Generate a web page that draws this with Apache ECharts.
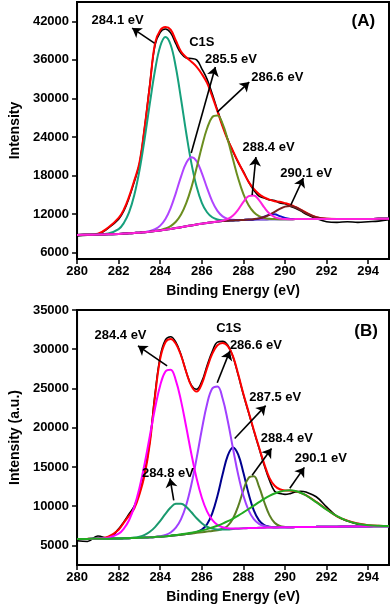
<!DOCTYPE html>
<html>
<head>
<meta charset="utf-8">
<script src="https://cdn.jsdelivr.net/npm/echarts@6/dist/echarts.min.js"></script>
<style>
html, body { margin: 0; padding: 0; background: #fff; }
#chart { width: 392px; height: 608px; }
</style>
</head>
<body>
<div id="chart"></div>
<script>
// binding energy grid (eV) shared by both spectra
var energy = [280, 280.5, 281, 281.5, 282, 282.25, 282.5, 282.75, 283, 283.25, 283.5, 283.75,
    284, 284.25, 284.5, 284.75, 285, 285.25, 285.5, 285.75, 286, 286.25, 286.5, 286.75,
    287, 287.25, 287.5, 287.75, 288, 288.25, 288.5, 288.75, 289, 289.25, 289.5, 289.75,
    290, 290.25, 290.5, 290.75, 291, 291.5, 292, 292.5, 293, 293.5, 294, 294.5, 295];

var xTicks = [280, 282, 284, 286, 288, 290, 292, 294];
var yTicksA = [6000, 12000, 18000, 24000, 30000, 36000, 42000];
var yTicksB = [5000, 10000, 15000, 20000, 25000, 30000, 35000];

// ---- panel A ----
var expA = [8600, 8700, 8850, 9800, 11200, 12500, 14500, 17000, 19800, 25500, 32200, 38300,
    40300, 40800, 40200, 38500, 37000, 36300, 36200, 36000, 34600, 33000, 30700, 28200,
    25800, 23600, 21700, 20000, 18600, 17000, 15700, 14800, 14500, 14200, 14100, 13700,
    13600, 13200, 12900, 12500, 12000, 11300, 10800, 10700, 10800, 10700, 10800, 10900, 11100];
var fitA = [8750, 8800, 8950, 9900, 11400, 12700, 14700, 17200, 20000, 25500, 32000, 38600,
    40600, 41100, 40700, 39000, 37300, 36400, 35700, 34900, 33800, 32400, 30300, 28000,
    25600, 23500, 21800, 20100, 18500, 17000, 15900, 15100, 14600, 14250, 14000, 13900,
    13700, 13450, 13100, 12700, 12250, 11500, 11250, 11230, 11230, 11240, 11240, 11250, 11250];
var baseA = [8750, 8770, 8800, 8850, 8900, 8950, 9000, 9050, 9100, 9180, 9260, 9350,
    9450, 9560, 9680, 9810, 9950, 10090, 10230, 10370, 10500, 10620, 10730, 10820,
    10900, 10960, 11010, 11050, 11080, 11110, 11130, 11150, 11160, 11170, 11180, 11190,
    11200, 11200, 11210, 11210, 11210, 11220, 11220, 11230, 11230, 11240, 11240, 11250, 11250];
// component heights above background
var pkA284 = [0, 0, 10, 120, 760, 1650, 3250, 5860, 9650, 14520, 19950, 25030,
    28670, 30000, 28670, 25030, 19950, 14520, 9650, 5860, 3250, 1650, 760, 320,
    120, 40, 0, 0, 0, 0, 0, 0, 0, 0, 0, 0,
    0, 0, 0, 0, 0, 0, 0, 0, 0, 0, 0, 0, 0];
var pkA285 = [0, 0, 0, 0, 0, 0, 0, 0, 0, 0, 90, 280,
    740, 1670, 3250, 5450, 7880, 9850, 10600, 9850, 7880, 5450, 3250, 1670,
    740, 280, 90, 0, 0, 0, 0, 0, 0, 0, 0, 0,
    0, 0, 0, 0, 0, 0, 0, 0, 0, 0, 0, 0, 0];
var pkA286 = [0, 0, 0, 0, 0, 0, 0, 0, 0, 0, 0, 0,
    70, 185, 450, 990, 1980, 3600, 5920, 8840, 11970, 14690, 16360, 16520,
    15130, 12570, 9470, 6470, 4010, 2250, 1150, 530, 220, 85, 30, 0,
    0, 0, 0, 0, 0, 0, 0, 0, 0, 0, 0, 0, 0];
var pkA288 = [0, 0, 0, 0, 0, 0, 0, 0, 0, 0, 0, 0,
    0, 0, 0, 0, 0, 0, 0, 0, 0, 0, 0, 0,
    75, 270, 760, 1650, 2800, 3680, 3770, 3010, 1870, 910, 340, 100,
    25, 0, 0, 0, 0, 0, 0, 0, 0, 0, 0, 0, 0];
var pkA290 = [0, 0, 0, 0, 0, 0, 0, 0, 0, 0, 0, 0,
    0, 0, 0, 0, 0, 0, 0, 0, 0, 0, 0, 0,
    0, 0, 0, 0, 0, 20, 70, 170, 375, 705, 1150, 1610,
    1955, 2045, 1840, 1430, 960, 280, 45, 0, 0, 0, 0, 0, 0];
var pkA289 = [0, 0, 0, 0, 0, 0, 0, 0, 0, 0, 0, 0,
    0, 0, 0, 0, 0, 0, 0, 0, 0, 0, 0, 0,
    0, 0, 0, 0, 0, 0, 30, 140, 420, 730, 770, 490,
    185, 40, 0, 0, 0, 0, 0, 0, 0, 0, 0, 0, 0];

// ---- panel B ----
var expB = [5600, 5500, 6200, 5900, 7100, 8000, 9000, 10000, 11700, 14300, 18300, 24300,
    29100, 31200, 31600, 30900, 29300, 27100, 25400, 24900, 25900, 27900, 29700, 30900,
    31000, 30500, 29000, 26700, 24200, 21900, 19600, 17400, 15200, 13300, 11900, 11600,
    11500, 11600, 11800, 11900, 11800, 11200, 9900, 8700, 8100, 7700, 7500, 7450, 7500];
var fitB = [5800, 5830, 5870, 6100, 7000, 7900, 8800, 9700, 11500, 14000, 18000, 24000,
    28800, 30900, 31300, 30700, 29200, 27100, 25300, 24600, 25600, 27600, 29400, 30500,
    30800, 30400, 29100, 26800, 24300, 22000, 19700, 17500, 15400, 13600, 12600, 12150,
    12000, 11980, 11900, 11700, 11400, 10550, 9600, 8700, 8150, 7780, 7580, 7490, 7460];
var baseB = [5800, 5820, 5840, 5860, 5880, 5900, 5920, 5940, 5970, 6000, 6030, 6070,
    6110, 6160, 6220, 6290, 6360, 6440, 6520, 6600, 6680, 6760, 6840, 6910,
    6980, 7040, 7090, 7130, 7170, 7200, 7220, 7240, 7260, 7280, 7290, 7300,
    7310, 7320, 7330, 7340, 7350, 7360, 7380, 7390, 7400, 7410, 7420, 7430, 7440];
var pkB284 = [0, 0, 15, 120, 610, 1230, 2290, 3970, 6350, 9410, 12930, 16400,
    19300, 21000, 21170, 19740, 17060, 13640, 10100, 6920, 4390, 2570, 1400, 700,
    330, 140, 55, 20, 0, 0, 0, 0, 0, 0, 0, 0,
    0, 0, 0, 0, 0, 0, 0, 0, 0, 0, 0, 0, 0];
var pkB2848 = [0, 0, 0, 0, 0, 0, 20, 60, 150, 345, 700, 1265,
    2020, 2865, 3600, 4010, 3960, 3470, 2700, 1860, 1140, 615, 295, 125,
    50, 0, 0, 0, 0, 0, 0, 0, 0, 0, 0, 0,
    0, 0, 0, 0, 0, 0, 0, 0, 0, 0, 0, 0, 0];
var pkB286 = [0, 0, 0, 0, 0, 0, 0, 0, 0, 0, 0, 0,
    60, 165, 420, 960, 1990, 3710, 6260, 9520, 13090, 16230, 18160, 18350,
    16730, 13780, 10230, 6860, 4150, 2270, 1125, 500, 200, 75, 0, 0,
    0, 0, 0, 0, 0, 0, 0, 0, 0, 0, 0, 0, 0];
var pkB287 = [0, 0, 0, 0, 0, 0, 0, 0, 0, 0, 0, 0,
    0, 0, 0, 0, 0, 0, 20, 94, 330, 940, 2230, 4380,
    7080, 9440, 10400, 9440, 7080, 4380, 2230, 940, 330, 94, 20, 0,
    0, 0, 0, 0, 0, 0, 0, 0, 0, 0, 0, 0, 0];
var pkB288 = [0, 0, 0, 0, 0, 0, 0, 0, 0, 0, 0, 0,
    0, 0, 0, 0, 0, 0, 0, 0, 0, 0, 0, 30,
    135, 475, 1330, 2880, 4870, 6410, 6580, 5250, 3270, 1580, 600, 175,
    40, 0, 0, 0, 0, 0, 0, 0, 0, 0, 0, 0, 0];
var pkB290 = [0, 0, 0, 0, 0, 0, 0, 0, 0, 0, 0, 0,
    0, 0, 17, 28, 45, 70, 103, 152, 222, 316, 440, 600,
    800, 1040, 1330, 1665, 2035, 2435, 2850, 3265, 3665, 4020, 4320, 4540,
    4670, 4700, 4600, 4370, 4040, 3145, 2175, 1335, 727, 352, 150, 57, 20];

// annotations: [text, energy, intensity]
var notesA = [['284.1 eV', 281.95, 42190], ['C1S', 286.0, 38770], ['285.5 eV', 287.4, 36120],
    ['286.6 eV', 289.63, 33320], ['288.4 eV', 289.21, 22430], ['290.1 eV', 291.02, 18380]];
var arrowsA = [[283.72, 38610, 282.65, 40940], [285.49, 21490, 286.65, 34875],
    [286.74, 27870, 288.28, 32540], [288.42, 14960, 288.6, 20870], [290.28, 13400, 290.88, 17600]];
var notesB = [['284.4 eV', 282.09, 31700], ['C1S', 287.3, 32710], ['286.6 eV', 288.6, 30430],
    ['287.5 eV', 289.53, 23830], ['288.4 eV', 290.09, 18620], ['290.1 eV', 291.72, 16080],
    ['284.8 eV', 284.37, 14180]];
var arrowsB = [[284.33, 27890, 282.93, 30430], [286.74, 25730, 287.35, 29790],
    [287.58, 18620, 289.07, 22810], [288.42, 13930, 289.35, 17350],
    [290.23, 12280, 290.93, 14940], [284.65, 10750, 284.47, 13540]];

var FONT = 'Liberation Sans, Arial, sans-serif';

function pts(vals) {
    return energy.map(function (e, i) { return [e, vals[i]]; });
}
function onBase(base, pk) {
    return energy.map(function (e, i) { return [e, base[i] + pk[i]]; });
}
function curve(k, data, color, width) {
    return {
        type: 'line', xAxisIndex: k, yAxisIndex: k, data: data,
        symbol: 'none', smooth: 0.4, silent: true,
        lineStyle: { color: color, width: width }
    };
}
function notes(k, list, arrows, tag, tagPos) {
    var pointsData = list.map(function (n) {
        return { name: n[0], coord: [n[1], n[2]] };
    });
    pointsData.push({
        name: tag, coord: tagPos,
        label: { fontSize: 17 }
    });
    return {
        type: 'line', xAxisIndex: k, yAxisIndex: k, data: [], silent: true,
        markPoint: {
            symbol: 'rect', symbolSize: 1,
            itemStyle: { color: 'rgba(0,0,0,0)' },
            label: {
                show: true, position: 'inside', formatter: '{b}',
                color: '#000', fontFamily: FONT, fontWeight: 'bold', fontSize: 13
            },
            data: pointsData
        },
        markLine: {
            symbol: ['none', 'arrow'], symbolSize: 9,
            lineStyle: { color: '#000', width: 1.6, type: 'solid' },
            label: { show: false },
            data: arrows.map(function (a) {
                return [{ coord: [a[0], a[1]] }, { coord: [a[2], a[3]] }];
            })
        }
    };
}
function plain(v) {
    return String(v);
}
function xAx(k) {
    return {
        type: 'value', gridIndex: k, min: 280, max: 295,
        name: 'Binding Energy (eV)', nameLocation: 'middle', nameGap: 25,
        nameTextStyle: { fontFamily: FONT, fontWeight: 'bold', fontSize: 14, color: '#000' },
        axisLine: { lineStyle: { color: '#000', width: 2 } },
        axisTick: { customValues: xTicks, length: 5, lineStyle: { width: 1.5 } },
        axisLabel: { customValues: xTicks, formatter: plain, margin: 6, fontFamily: FONT, fontWeight: 'bold', fontSize: 13, color: '#000' },
        splitLine: { show: false }
    };
}
function yAx(k, min, max, ticks, title) {
    return {
        type: 'value', gridIndex: k, min: min, max: max,
        name: title, nameLocation: 'middle', nameGap: 50,
        nameTextStyle: { fontFamily: FONT, fontWeight: 'bold', fontSize: 14, color: '#000' },
        axisLine: { show: true, lineStyle: { color: '#000', width: 2 } },
        axisTick: { show: true, customValues: ticks, length: 5, lineStyle: { width: 1.5 } },
        axisLabel: { customValues: ticks, formatter: plain, margin: 8, fontFamily: FONT, fontWeight: 'bold', fontSize: 13, color: '#000' },
        splitLine: { show: false }
    };
}

var option = {
    animation: false,
    backgroundColor: '#fff',
    grid: [
        { left: 67, right: 3, top: 2, height: 257, show: true, borderColor: '#000', borderWidth: 2 },
        { left: 67, right: 3, top: 310, height: 255, show: true, borderColor: '#000', borderWidth: 2 }
    ],
    xAxis: [xAx(0), xAx(1)],
    yAxis: [
        yAx(0, 5000, 45000, yTicksA, 'Intensity'),
        yAx(1, 2500, 35000, yTicksB, 'Intensity (a.u.)')
    ],
    series: [
        curve(0, pts(expA), '#000', 1.6),
        curve(0, pts(fitA), '#ff0000', 2),
        curve(0, onBase(baseA, pkA284), '#16a07c', 2),
        curve(0, onBase(baseA, pkA285), '#b044ff', 2),
        curve(0, onBase(baseA, pkA286), '#6b8e1f', 2),
        curve(0, onBase(baseA, pkA289), '#1010cc', 2),
        curve(0, onBase(baseA, pkA290), '#7a1e1e', 2),
        curve(0, onBase(baseA, pkA288), '#ff22dd', 2),
        notes(0, notesA, arrowsA, '(A)', [293.77, 42030]),

        curve(1, pts(expB), '#000', 1.6),
        curve(1, pts(fitB), '#ff0000', 2),
        curve(1, onBase(baseB, pkB287), '#00008f', 2),
        curve(1, onBase(baseB, pkB288), '#5b7f23', 2),
        curve(1, onBase(baseB, pkB286), '#a040ff', 2),
        curve(1, onBase(baseB, pkB2848), '#1a9a6e', 2),
        curve(1, onBase(baseB, pkB284), '#ff00ff', 2),
        curve(1, onBase(baseB, pkB290), '#22aa22', 2),
        notes(1, notesB, arrowsB, '(B)', [293.9, 32330])
    ]
};

var myChart = echarts.init(document.getElementById('chart'));
myChart.setOption(option);
</script>
</body>
</html>
